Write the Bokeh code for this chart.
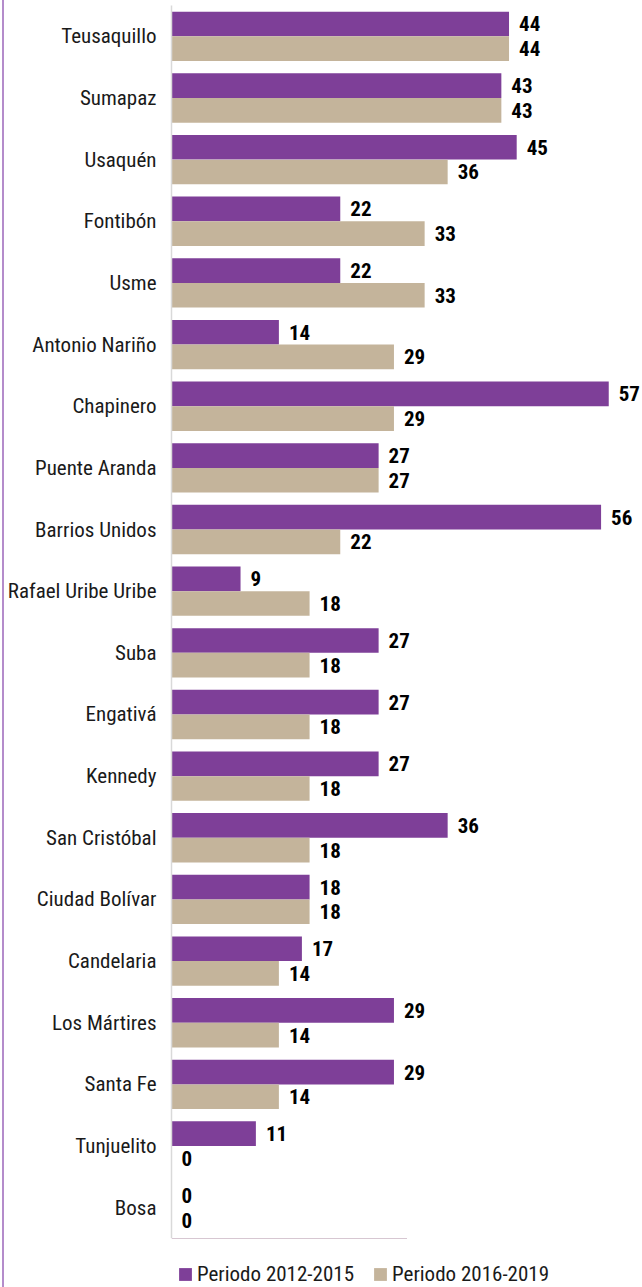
from bokeh.plotting import figure
from bokeh.layouts import column
from bokeh.models import FactorRange, Range1d, Legend, LegendItem, ColumnDataSource
from bokeh.transform import dodge
from bokeh.core.properties import value
from bokeh.embed import file_html
from bokeh.resources import INLINE

localidades = ["Teusaquillo", "Sumapaz", "Usaquén", "Fontibón", "Usme", "Antonio Nariño",
               "Chapinero", "Puente Aranda", "Barrios Unidos", "Rafael Uribe Uribe", "Suba",
               "Engativá", "Kennedy", "San Cristóbal", "Ciudad Bolívar", "Candelaria",
               "Los Mártires", "Santa Fe", "Tunjuelito", "Bosa"]
periodo_2012_2015 = [44, 43, 45, 22, 22, 14, 57, 27, 56, 9, 27, 27, 27, 36, 18, 17, 29, 29, 11, 0]
periodo_2016_2019 = [44, 43, 36, 33, 33, 29, 29, 27, 22, 18, 18, 18, 18, 18, 18, 14, 14, 14, 0, 0]
series_names = ["Periodo 2012-2015", "Periodo 2016-2019"]

PURPLE = "#7e3f98"
BEIGE = "#c4b49b"
FONT = "'Roboto Condensed', 'DejaVu Sans Condensed', sans-serif"

src = ColumnDataSource(dict(
    cat=localidades,
    a=periodo_2012_2015,
    b=periodo_2016_2019,
    la=[str(v) for v in periodo_2012_2015],
    lb=[str(v) for v in periodo_2016_2019],
))

p = figure(width=638, height=1238,
           y_range=FactorRange(factors=localidades[::-1]),
           x_range=Range1d(0, 61.4),
           output_backend="svg", toolbar_location=None,
           x_axis_location=None,
           min_border_left=160, min_border_right=0, min_border_top=5, min_border_bottom=0)

r1 = p.hbar(y=dodge("cat", 0.2, range=p.y_range), left=0, right="a", height=0.4,
            fill_color=PURPLE, line_color=None, source=src)
r2 = p.hbar(y=dodge("cat", -0.2, range=p.y_range), left=0, right="b", height=0.4,
            fill_color=BEIGE, line_color=None, source=src)

p.text(x="a", y=dodge("cat", 0.2, range=p.y_range), text="la", x_offset=10,
       text_baseline="middle", text_align="left", text_font=value(FONT),
       text_font_style="bold", text_font_size="21px", text_color="#000000", source=src)
p.text(x="b", y=dodge("cat", -0.2, range=p.y_range), text="lb", x_offset=10,
       text_baseline="middle", text_align="left", text_font=value(FONT),
       text_font_style="bold", text_font_size="21px", text_color="#000000", source=src)

p.grid.visible = False
p.outline_line_color = None
ax = p.yaxis[0]
ax.axis_line_color = "#d9d9d9"
ax.axis_line_width = 1.5
ax.major_tick_line_color = None
ax.minor_tick_line_color = None
ax.major_label_standoff = 9
ax.major_label_text_font = FONT
ax.major_label_text_font_size = "21px"
ax.major_label_text_color = "#1a1a1a"

# legend strip below the chart (frame aligned with the chart's frame)
leg_src = ColumnDataSource(dict(y=[5], r=[0.5]))
p2 = figure(width=638, height=49, x_range=Range1d(0, 1), y_range=Range1d(0, 1),
            output_backend="svg", toolbar_location=None,
            x_axis_location=None, y_axis_location=None,
            min_border_left=0, min_border_right=0, min_border_top=0, min_border_bottom=0)
p2.grid.visible = False
p2.outline_line_color = None
g1 = p2.hbar(y="y", right="r", left=0, height=0.4, fill_color=PURPLE, line_color=None, source=leg_src)
g2 = p2.hbar(y="y", right="r", left=0, height=0.4, fill_color=BEIGE, line_color=None, source=leg_src)
legend = Legend(items=[LegendItem(label=series_names[0], renderers=[g1]),
                       LegendItem(label=series_names[1], renderers=[g2])],
                orientation="horizontal", location=(6, 1),
                spacing=18, label_standoff=4, glyph_width=16, glyph_height=16,
                label_height=16,
                label_text_font=FONT, label_text_font_size="21px",
                label_text_color="#1a1a1a",
                padding=0, margin=0, border_line_color=None, background_fill_alpha=0)
p2.add_layout(legend)

layout = column(p, p2, spacing=0,
                styles={"border-left": "2px solid #b48ccb", "margin-left": "2px"})

open("out.html", "w").write(file_html(layout, INLINE))
